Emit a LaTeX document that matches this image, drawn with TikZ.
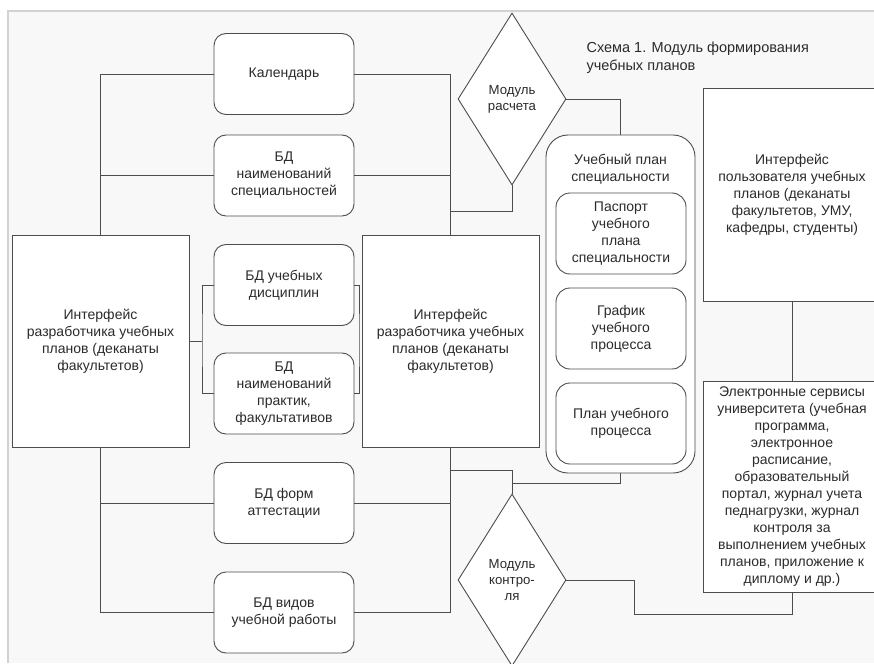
\documentclass[tikz,border=0pt]{standalone}
\usepackage{fontspec}
\setmainfont{Liberation Sans}
\usetikzlibrary{shapes.geometric}
\definecolor{linegray}{HTML}{4D4D4D}
\definecolor{textgray}{HTML}{2B2B2B}
\definecolor{backgray}{HTML}{F8F8F8}

\begin{document}
\begin{tikzpicture}[x=1pt,y=-1pt,
	box/.style={draw=linegray,fill=white,line width=0.9pt,inner sep=0pt,align=center,text=textgray,font=\fontsize{14}{17}\selectfont},
	db/.style={box,rounded corners=12pt,minimum width=140pt,minimum height=81pt},
	iface/.style={box,minimum width=177pt,minimum height=212pt},
	module/.style={box,shape=diamond,minimum width=108pt,minimum height=172pt,font=\fontsize{13.2}{16}\selectfont},
	link/.style={draw=linegray,line width=0.9pt}]
	\clip (0,0) rectangle (874,663);
	\fill[white] (0,0) rectangle (874,663);
	\fill[backgray] (8,11) rectangle (874,663);
	\draw[gray!35,line width=1.2pt] (8,663) -- (8,11) -- (874,11);

	\node[iface] (left) at (100.5,341) {Интерфейс\\разработчика учебных\\планов (деканаты\\факультетов)};
	\node[iface] (mid) at (450.5,341) {Интерфейс\\разработчика учебных\\планов (деканаты\\факультетов)};
	\node[db] (cal) at (284,74) {Календарь};
	\node[db] (spec) at (284,175.5) {БД\\наименований\\специальностей};
	\node[db] (disc) at (284,285) {БД учебных\\дисциплин};
	\node[db] (prac) at (284,393.5) {БД\\наименований\\практик,\\факультативов};
	\node[db] (att) at (284,503) {БД форм\\аттестации};
	\node[db] (work) at (284,612.5) {БД видов\\учебной работы};
	\node[module] (calc) at (512,99) {Модуль\\расчета};
	\node[module] (ctrl) at (512,580) {Модуль\\контро-\\ля};
	\node[box,rounded corners=22pt,minimum width=149pt,minimum height=338pt] (plan) at (620.5,304) {};
	\node[align=center,text=textgray,font=\fontsize{14}{17}\selectfont] (plantitle) at (620.5,169) {Учебный план\\специальности};
	\node[db,rounded corners=14pt,minimum width=130pt] (pass) at (621,233.5) {Паспорт\\учебного\\плана\\специальности};
	\node[db,rounded corners=14pt,minimum width=130pt] (sched) at (621,328.5) {График\\учебного\\процесса};
	\node[db,rounded corners=14pt,minimum width=130pt] (proc) at (621,423.5) {План учебного\\процесса};
	\node[box,minimum width=178pt,minimum height=213pt] (user) at (792,194.5) {Интерфейс\\пользователя учебных\\планов (деканаты\\факультетов, УМУ,\\кафедры, студенты)};
	\node[box,minimum width=178pt,minimum height=211pt] (serv) at (792,486.5) {Электронные сервисы\\университета (учебная\\программа,\\электронное\\расписание,\\образовательный\\портал, журнал учета\\педнагрузки, журнал\\контроля за\\выполнением учебных\\планов, приложение к\\диплому и др.)};
	\node[anchor=north west,align=left,text=textgray,font=\fontsize{14.5}{18}\selectfont] (title) at (583,38) {Схема 1. Модуль формирования\\учебных планов};

	\coordinate (lb) at (202,341);
	\coordinate (rb) at (359,341);
	\coordinate (tjoin) at (450.5,211);
	\coordinate (bjoin) at (450.5,470);
	\coordinate (cbend) at (512,483);
	\coordinate (sbend) at (634,614);

	\draw[link] (cal.west) -| (left.north);
	\draw[link] (spec.west) -| (left.north);
	\draw[link] (att.west) -| (left.south);
	\draw[link] (work.west) -| (left.south);
	\draw[link] (cal.east) -| (mid.north);
	\draw[link] (spec.east) -| (mid.north);
	\draw[link] (att.east) -| (mid.south);
	\draw[link] (work.east) -| (mid.south);
	\draw[link] (left.east) -- (lb);
	\draw[link] (disc.west) -| (lb) |- (prac.west);
	\draw[link] (disc.east) -| (rb) |- (prac.east);
	\draw[link] (calc.south) |- (tjoin);
	\draw[link] (calc.east) -| (plan.north);
	\draw[link] (ctrl.north) |- (bjoin);
	\draw[link] (cbend) -| (plan.south);
	\draw[link] (user.south) -- (serv.north);
	\draw[link] (serv.south) |- (sbend) |- (ctrl.east);
\end{tikzpicture}
\end{document}
